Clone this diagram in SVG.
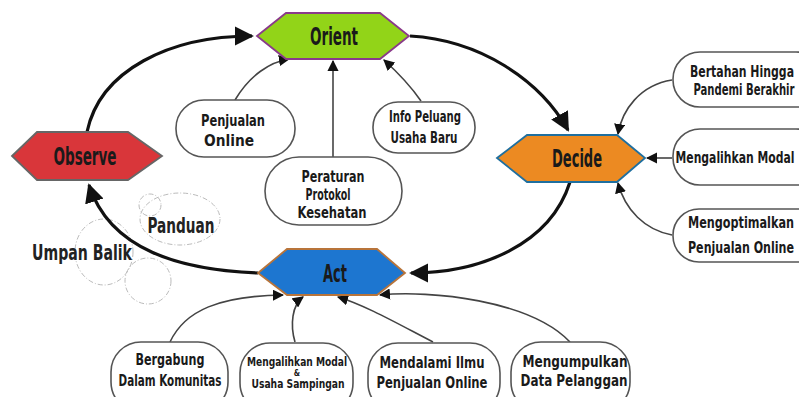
<svg xmlns="http://www.w3.org/2000/svg" width="799" height="397" viewBox="0 0 799 397">
<style>
text{font-family:"Liberation Sans Narrow","DejaVu Sans Condensed","Liberation Sans",sans-serif;font-weight:bold;fill:#1a1a1a;text-anchor:middle}
.hex text{font-size:24px}
.pill rect{fill:#fff;stroke:#555;stroke-width:1.6}
.pill text{font-size:16px}
.main{fill:none;stroke:#111;stroke-width:3.2}
.thin{fill:none;stroke:#444;stroke-width:1.6}
.dash{fill:none;stroke:#bbb;stroke-width:1;stroke-dasharray:5 2 1 2}
.lbl{font-size:21px;fill:#222}
</style>
<defs>
<marker id="big" viewBox="0 0 10 10" refX="9" refY="5" markerWidth="6" markerHeight="6" markerUnits="strokeWidth" orient="auto"><path d="M0,0 L10,5 L0,10 z" fill="#111"/></marker>
<marker id="small" viewBox="0 0 10 10" refX="9" refY="5" markerWidth="7" markerHeight="7" markerUnits="strokeWidth" orient="auto"><path d="M0,0 L10,5 L0,10 z" fill="#111"/></marker>
</defs>

<g id="decor">
<ellipse class="dash" cx="180" cy="219" rx="40" ry="26"/>
<circle class="dash" cx="150" cy="205" r="11"/>
<ellipse class="dash" cx="104" cy="252" rx="29" ry="33"/>
<circle class="dash" cx="148" cy="281" r="23"/>
<text class="lbl" x="181" y="233" textLength="67" lengthAdjust="spacingAndGlyphs">Panduan</text>
<text class="lbl" x="82" y="260" textLength="100" lengthAdjust="spacingAndGlyphs">Umpan Balik</text>
</g>

<g id="connectors">
<path class="main" d="M87,132 C100,70 170,36 252,36" marker-end="url(#big)"/>
<path class="main" d="M410,36 C480,40 540,80 568,130" marker-end="url(#big)"/>
<path class="main" d="M570,182 C550,245 480,273 411,273" marker-end="url(#big)"/>
<path class="main" d="M258,273 C180,270 110,250 89,185" marker-end="url(#big)"/>
<path class="thin" d="M235,100 C250,75 270,62 289,59" marker-end="url(#small)"/>
<path class="thin" d="M333,157 L333,61" marker-end="url(#small)"/>
<path class="thin" d="M421,101 C410,85 395,70 384,60" marker-end="url(#small)"/>
<path class="thin" d="M672,80 C640,85 622,110 618,134" marker-end="url(#small)"/>
<path class="thin" d="M672,158 L647,158" marker-end="url(#small)"/>
<path class="thin" d="M672,235 C645,230 625,210 618,183" marker-end="url(#small)"/>
<path class="thin" d="M170,342 C185,310 220,296 283,295" marker-end="url(#small)"/>
<path class="thin" d="M295,342 C290,325 292,305 303,297" marker-end="url(#small)"/>
<path class="thin" d="M433,342 C400,325 365,305 338,297" marker-end="url(#small)"/>
<path class="thin" d="M570,342 C530,300 430,290 380,295" marker-end="url(#small)"/>
</g>

<g id="orient" class="hex">
<polygon points="257,36 286,13 380,13 409,36 380,59 286,59" fill="#92d418" stroke="#8a3a8a" stroke-width="1.8"/>
<text x="334" y="45" textLength="48" lengthAdjust="spacingAndGlyphs">Orient</text>
</g>
<g id="observe" class="hex">
<polygon points="12,156 37,132 128,132 162,156 128,180 37,180" fill="#d9363a" stroke="#666" stroke-width="1.8"/>
<text x="85" y="165" textLength="63" lengthAdjust="spacingAndGlyphs">Observe</text>
</g>
<g id="decide" class="hex">
<polygon points="497,158 527,135 617,135 645,158 617,182 527,182" fill="#ec8a22" stroke="#1f6f9f" stroke-width="1.8"/>
<text x="577" y="167" textLength="50" lengthAdjust="spacingAndGlyphs">Decide</text>
</g>
<g id="act" class="hex">
<polygon points="258,273 287,249 377,249 405,273 377,295 287,295" fill="#1d76d0" stroke="#b8743a" stroke-width="1.8"/>
<text x="335" y="282" textLength="24" lengthAdjust="spacingAndGlyphs">Act</text>
</g>

<g id="penjualan-online" class="pill">
<rect x="176" y="100" width="119" height="57" rx="28"/>
<text x="233" y="126" textLength="64" lengthAdjust="spacingAndGlyphs">Penjualan</text>
<text x="229" y="146" textLength="50" lengthAdjust="spacingAndGlyphs">Online</text>
</g>
<g id="info-peluang" class="pill">
<rect x="373" y="102" width="102" height="51" rx="25"/>
<text x="425" y="122" textLength="72" lengthAdjust="spacingAndGlyphs">Info Peluang</text>
<text x="424" y="143" textLength="67" lengthAdjust="spacingAndGlyphs">Usaha Baru</text>
</g>
<g id="peraturan" class="pill">
<rect x="265" y="157" width="137" height="68" rx="34"/>
<text x="333" y="182" textLength="63" lengthAdjust="spacingAndGlyphs">Peraturan</text>
<text x="328" y="200" textLength="45" lengthAdjust="spacingAndGlyphs">Protokol</text>
<text x="332" y="218" textLength="69" lengthAdjust="spacingAndGlyphs">Kesehatan</text>
</g>
<g id="bertahan" class="pill">
<rect x="673" y="52" width="150" height="55" rx="27"/>
<text x="742" y="77" textLength="104" lengthAdjust="spacingAndGlyphs">Bertahan Hingga</text>
<text x="744" y="95" textLength="101" lengthAdjust="spacingAndGlyphs">Pandemi Berakhir</text>
</g>
<g id="mengalihkan-modal" class="pill">
<rect x="673" y="129" width="150" height="56" rx="27"/>
<text x="735" y="163" textLength="119" lengthAdjust="spacingAndGlyphs">Mengalihkan Modal</text>
</g>
<g id="mengoptimalkan" class="pill">
<rect x="673" y="209" width="150" height="53" rx="26"/>
<text x="741" y="228" textLength="106" lengthAdjust="spacingAndGlyphs">Mengoptimalkan</text>
<text x="741" y="253" textLength="106" lengthAdjust="spacingAndGlyphs">Penjualan Online</text>
</g>
<g id="bergabung" class="pill">
<rect x="111" y="342" width="117" height="70" rx="30"/>
<text x="170" y="365" textLength="69" lengthAdjust="spacingAndGlyphs">Bergabung</text>
<text x="170" y="386" textLength="103" lengthAdjust="spacingAndGlyphs">Dalam Komunitas</text>
</g>
<g id="mengalihkan-usaha" class="pill">
<rect x="240" y="343" width="113" height="70" rx="30"/>
<text x="297" y="366" style="font-size:13px" textLength="100" lengthAdjust="spacingAndGlyphs">Mengalihkan Modal</text>
<text x="297" y="376" style="font-size:8px">&amp;</text>
<text x="298" y="388" style="font-size:13px" textLength="93" lengthAdjust="spacingAndGlyphs">Usaha Sampingan</text>
</g>
<g id="mendalami" class="pill">
<rect x="368" y="343" width="132" height="70" rx="30"/>
<text x="432" y="368" textLength="105" lengthAdjust="spacingAndGlyphs">Mendalami Ilmu</text>
<text x="432" y="388" textLength="111" lengthAdjust="spacingAndGlyphs">Penjualan Online</text>
</g>
<g id="mengumpulkan" class="pill">
<rect x="511" y="342" width="119" height="70" rx="30"/>
<text x="575" y="367" textLength="105" lengthAdjust="spacingAndGlyphs">Mengumpulkan</text>
<text x="574" y="386" textLength="107" lengthAdjust="spacingAndGlyphs">Data Pelanggan</text>
</g>
</svg>
